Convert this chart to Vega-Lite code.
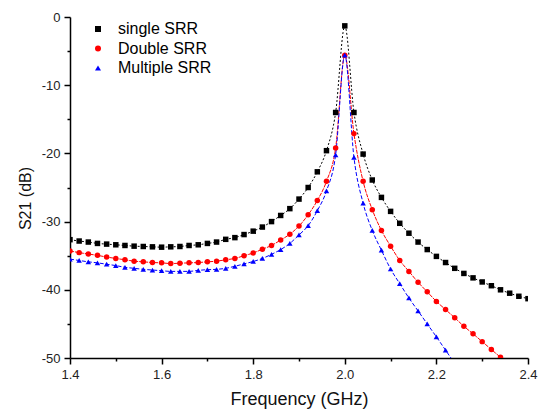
{
  "$schema": "https://vega.github.io/schema/vega-lite/v6.json",
  "width": 458,
  "height": 341,
  "autosize": {"type": "none"},
  "padding": {"left": 70, "top": 17, "right": 15, "bottom": 54},
  "background": "white",
  "config": {
    "view": {"stroke": null},
    "font": "Liberation Sans",
    "axis": {
      "domainColor": "black",
      "domainWidth": 1.5,
      "tickColor": "black",
      "tickWidth": 1.5,
      "labelColor": "#222",
      "labelFont": "Liberation Sans",
      "labelFontSize": 13,
      "titleFont": "Liberation Sans",
      "titleFontWeight": "normal",
      "titleColor": "#111",
      "grid": false
    }
  },
  "data": {
    "values": [
      {"f": 1.40, "s": -32.65, "series": "single SRR"},
      {"f": 1.42, "s": -32.85, "series": "single SRR"},
      {"f": 1.44, "s": -33.0, "series": "single SRR"},
      {"f": 1.46, "s": -33.2, "series": "single SRR"},
      {"f": 1.48, "s": -33.3, "series": "single SRR"},
      {"f": 1.50, "s": -33.4, "series": "single SRR"},
      {"f": 1.52, "s": -33.5, "series": "single SRR"},
      {"f": 1.54, "s": -33.6, "series": "single SRR"},
      {"f": 1.56, "s": -33.65, "series": "single SRR"},
      {"f": 1.58, "s": -33.7, "series": "single SRR"},
      {"f": 1.60, "s": -33.75, "series": "single SRR"},
      {"f": 1.62, "s": -33.7, "series": "single SRR"},
      {"f": 1.64, "s": -33.65, "series": "single SRR"},
      {"f": 1.66, "s": -33.5, "series": "single SRR"},
      {"f": 1.68, "s": -33.4, "series": "single SRR"},
      {"f": 1.70, "s": -33.2, "series": "single SRR"},
      {"f": 1.72, "s": -33.0, "series": "single SRR"},
      {"f": 1.74, "s": -32.6, "series": "single SRR"},
      {"f": 1.76, "s": -32.35, "series": "single SRR"},
      {"f": 1.78, "s": -31.9, "series": "single SRR"},
      {"f": 1.80, "s": -31.4, "series": "single SRR"},
      {"f": 1.82, "s": -30.8, "series": "single SRR"},
      {"f": 1.84, "s": -30.0, "series": "single SRR"},
      {"f": 1.86, "s": -29.1, "series": "single SRR"},
      {"f": 1.88, "s": -28.1, "series": "single SRR"},
      {"f": 1.90, "s": -26.7, "series": "single SRR"},
      {"f": 1.92, "s": -25.0, "series": "single SRR"},
      {"f": 1.94, "s": -22.7, "series": "single SRR"},
      {"f": 1.96, "s": -19.6, "series": "single SRR"},
      {"f": 1.98, "s": -14.0, "series": "single SRR"},
      {"f": 2.00, "s": -1.3, "series": "single SRR"},
      {"f": 2.02, "s": -14.0, "series": "single SRR"},
      {"f": 2.04, "s": -20.1, "series": "single SRR"},
      {"f": 2.06, "s": -23.9, "series": "single SRR"},
      {"f": 2.08, "s": -26.45, "series": "single SRR"},
      {"f": 2.10, "s": -28.5, "series": "single SRR"},
      {"f": 2.12, "s": -30.25, "series": "single SRR"},
      {"f": 2.14, "s": -31.7, "series": "single SRR"},
      {"f": 2.16, "s": -33.0, "series": "single SRR"},
      {"f": 2.18, "s": -34.1, "series": "single SRR"},
      {"f": 2.20, "s": -35.1, "series": "single SRR"},
      {"f": 2.22, "s": -36.0, "series": "single SRR"},
      {"f": 2.24, "s": -36.85, "series": "single SRR"},
      {"f": 2.26, "s": -37.6, "series": "single SRR"},
      {"f": 2.28, "s": -38.25, "series": "single SRR"},
      {"f": 2.30, "s": -38.85, "series": "single SRR"},
      {"f": 2.32, "s": -39.4, "series": "single SRR"},
      {"f": 2.34, "s": -40.0, "series": "single SRR"},
      {"f": 2.36, "s": -40.5, "series": "single SRR"},
      {"f": 2.38, "s": -40.95, "series": "single SRR"},
      {"f": 2.40, "s": -41.3, "series": "single SRR"},
      {"f": 1.40, "s": -34.3, "series": "Double SRR"},
      {"f": 1.42, "s": -34.55, "series": "Double SRR"},
      {"f": 1.44, "s": -34.75, "series": "Double SRR"},
      {"f": 1.46, "s": -34.95, "series": "Double SRR"},
      {"f": 1.48, "s": -35.2, "series": "Double SRR"},
      {"f": 1.50, "s": -35.4, "series": "Double SRR"},
      {"f": 1.52, "s": -35.6, "series": "Double SRR"},
      {"f": 1.54, "s": -35.8, "series": "Double SRR"},
      {"f": 1.56, "s": -35.9, "series": "Double SRR"},
      {"f": 1.58, "s": -36.0, "series": "Double SRR"},
      {"f": 1.60, "s": -36.05, "series": "Double SRR"},
      {"f": 1.62, "s": -36.15, "series": "Double SRR"},
      {"f": 1.64, "s": -36.1, "series": "Double SRR"},
      {"f": 1.66, "s": -36.05, "series": "Double SRR"},
      {"f": 1.68, "s": -36.0, "series": "Double SRR"},
      {"f": 1.70, "s": -35.9, "series": "Double SRR"},
      {"f": 1.72, "s": -35.8, "series": "Double SRR"},
      {"f": 1.74, "s": -35.6, "series": "Double SRR"},
      {"f": 1.76, "s": -35.4, "series": "Double SRR"},
      {"f": 1.78, "s": -35.0, "series": "Double SRR"},
      {"f": 1.80, "s": -34.6, "series": "Double SRR"},
      {"f": 1.82, "s": -34.05, "series": "Double SRR"},
      {"f": 1.84, "s": -33.5, "series": "Double SRR"},
      {"f": 1.86, "s": -32.7, "series": "Double SRR"},
      {"f": 1.88, "s": -31.85, "series": "Double SRR"},
      {"f": 1.90, "s": -30.65, "series": "Double SRR"},
      {"f": 1.92, "s": -29.0, "series": "Double SRR"},
      {"f": 1.94, "s": -26.9, "series": "Double SRR"},
      {"f": 1.96, "s": -24.1, "series": "Double SRR"},
      {"f": 1.98, "s": -19.2, "series": "Double SRR"},
      {"f": 2.00, "s": -5.6, "series": "Double SRR"},
      {"f": 2.02, "s": -17.1, "series": "Double SRR"},
      {"f": 2.04, "s": -24.1, "series": "Double SRR"},
      {"f": 2.06, "s": -28.25, "series": "Double SRR"},
      {"f": 2.08, "s": -31.3, "series": "Double SRR"},
      {"f": 2.10, "s": -33.6, "series": "Double SRR"},
      {"f": 2.12, "s": -35.7, "series": "Double SRR"},
      {"f": 2.14, "s": -37.3, "series": "Double SRR"},
      {"f": 2.16, "s": -38.9, "series": "Double SRR"},
      {"f": 2.18, "s": -40.3, "series": "Double SRR"},
      {"f": 2.20, "s": -41.7, "series": "Double SRR"},
      {"f": 2.22, "s": -42.9, "series": "Double SRR"},
      {"f": 2.24, "s": -44.1, "series": "Double SRR"},
      {"f": 2.26, "s": -45.35, "series": "Double SRR"},
      {"f": 2.28, "s": -46.45, "series": "Double SRR"},
      {"f": 2.30, "s": -47.6, "series": "Double SRR"},
      {"f": 2.32, "s": -48.75, "series": "Double SRR"},
      {"f": 2.34, "s": -49.9, "series": "Double SRR"},
      {"f": 2.36, "s": -51.0, "series": "Double SRR"},
      {"f": 1.40, "s": -35.5, "series": "Multiple SRR"},
      {"f": 1.42, "s": -35.7, "series": "Multiple SRR"},
      {"f": 1.44, "s": -35.9, "series": "Multiple SRR"},
      {"f": 1.46, "s": -36.05, "series": "Multiple SRR"},
      {"f": 1.48, "s": -36.25, "series": "Multiple SRR"},
      {"f": 1.50, "s": -36.45, "series": "Multiple SRR"},
      {"f": 1.52, "s": -36.7, "series": "Multiple SRR"},
      {"f": 1.54, "s": -36.85, "series": "Multiple SRR"},
      {"f": 1.56, "s": -37.0, "series": "Multiple SRR"},
      {"f": 1.58, "s": -37.1, "series": "Multiple SRR"},
      {"f": 1.60, "s": -37.2, "series": "Multiple SRR"},
      {"f": 1.62, "s": -37.3, "series": "Multiple SRR"},
      {"f": 1.64, "s": -37.3, "series": "Multiple SRR"},
      {"f": 1.66, "s": -37.3, "series": "Multiple SRR"},
      {"f": 1.68, "s": -37.15, "series": "Multiple SRR"},
      {"f": 1.70, "s": -37.05, "series": "Multiple SRR"},
      {"f": 1.72, "s": -37.0, "series": "Multiple SRR"},
      {"f": 1.74, "s": -36.85, "series": "Multiple SRR"},
      {"f": 1.76, "s": -36.55, "series": "Multiple SRR"},
      {"f": 1.78, "s": -36.2, "series": "Multiple SRR"},
      {"f": 1.80, "s": -35.85, "series": "Multiple SRR"},
      {"f": 1.82, "s": -35.4, "series": "Multiple SRR"},
      {"f": 1.84, "s": -34.8, "series": "Multiple SRR"},
      {"f": 1.86, "s": -34.1, "series": "Multiple SRR"},
      {"f": 1.88, "s": -33.2, "series": "Multiple SRR"},
      {"f": 1.90, "s": -31.95, "series": "Multiple SRR"},
      {"f": 1.92, "s": -30.6, "series": "Multiple SRR"},
      {"f": 1.94, "s": -28.4, "series": "Multiple SRR"},
      {"f": 1.96, "s": -25.5, "series": "Multiple SRR"},
      {"f": 1.98, "s": -20.2, "series": "Multiple SRR"},
      {"f": 2.00, "s": -5.6, "series": "Multiple SRR"},
      {"f": 2.02, "s": -20.6, "series": "Multiple SRR"},
      {"f": 2.04, "s": -27.3, "series": "Multiple SRR"},
      {"f": 2.06, "s": -31.3, "series": "Multiple SRR"},
      {"f": 2.08, "s": -34.2, "series": "Multiple SRR"},
      {"f": 2.10, "s": -36.95, "series": "Multiple SRR"},
      {"f": 2.12, "s": -39.1, "series": "Multiple SRR"},
      {"f": 2.14, "s": -41.2, "series": "Multiple SRR"},
      {"f": 2.16, "s": -43.1, "series": "Multiple SRR"},
      {"f": 2.18, "s": -45.0, "series": "Multiple SRR"},
      {"f": 2.20, "s": -46.9, "series": "Multiple SRR"},
      {"f": 2.22, "s": -48.85, "series": "Multiple SRR"},
      {"f": 2.24, "s": -50.8, "series": "Multiple SRR"}
    ]
  },
  "encoding": {
    "x": {
      "field": "f",
      "type": "quantitative",
      "scale": {"domain": [1.4, 2.4], "nice": false, "zero": false},
      "axis": {
        "title": "Frequency (GHz)",
        "titleFontSize": 18,
        "values": [1.4, 1.5, 1.6, 1.7, 1.8, 1.9, 2.0, 2.1, 2.2, 2.3, 2.4],
        "labelExpr": "round(datum.value*10) % 2 == 0 ? format(datum.value, '.1f') : ''",
        "tickSize": {"condition": {"test": "round(datum.value*10) % 2 == 0", "value": 6}, "value": 3},
        "labelPadding": 4,
        "labelFlush": false,
        "titlePadding": 9
      }
    },
    "y": {
      "field": "s",
      "type": "quantitative",
      "scale": {"domain": [-50, 0], "nice": false},
      "axis": {
        "title": "S21 (dB)",
        "titleFontSize": 16,
        "titleY": 181,
        "values": [-50, -45, -40, -35, -30, -25, -20, -15, -10, -5, 0],
        "labelExpr": "datum.value % 10 == 0 ? '' + datum.value : ''",
        "tickSize": {"condition": {"test": "datum.value % 10 == 0", "value": 6}, "value": 3},
        "labelPadding": 4,
        "labelFlush": false,
        "titlePadding": 8
      }
    },
    "color": {
      "field": "series",
      "type": "nominal",
      "scale": {"domain": ["single SRR", "Double SRR", "Multiple SRR"], "range": ["black", "red", "blue"]},
      "legend": {
        "title": null,
        "orient": "none",
        "legendX": 20,
        "legendY": 4,
        "padding": 0,
        "labelFont": "Liberation Sans",
        "labelFontSize": 16,
        "labelColor": "black",
        "labelOffset": 12,
        "rowPadding": 3.5,
        "symbolSize": 36,
        "symbolStrokeWidth": 0
      }
    }
  },
  "layer": [
    {
      "mark": {"type": "line", "interpolate": "monotone", "strokeWidth": 1, "clip": true},
      "encoding": {
        "strokeDash": {
          "field": "series",
          "type": "nominal",
          "scale": {"domain": ["single SRR", "Double SRR", "Multiple SRR"], "range": [[2, 2], [4, 1], [4, 2]]},
          "legend": null
        }
      }
    },
    {
      "mark": {"type": "point", "filled": true, "opacity": 1, "size": 30, "clip": true},
      "encoding": {
        "shape": {
          "field": "series",
          "type": "nominal",
          "scale": {"domain": ["single SRR", "Double SRR", "Multiple SRR"], "range": ["square", "circle", "triangle-up"]},
          "legend": {
            "title": null,
            "orient": "none",
            "legendX": 20,
            "legendY": 4,
            "padding": 0,
            "labelFont": "Liberation Sans",
            "labelFontSize": 16,
            "labelColor": "black",
            "labelOffset": 12,
            "rowPadding": 3.5,
            "symbolSize": 36,
            "symbolStrokeWidth": 0
          }
        }
      }
    }
  ]
}
